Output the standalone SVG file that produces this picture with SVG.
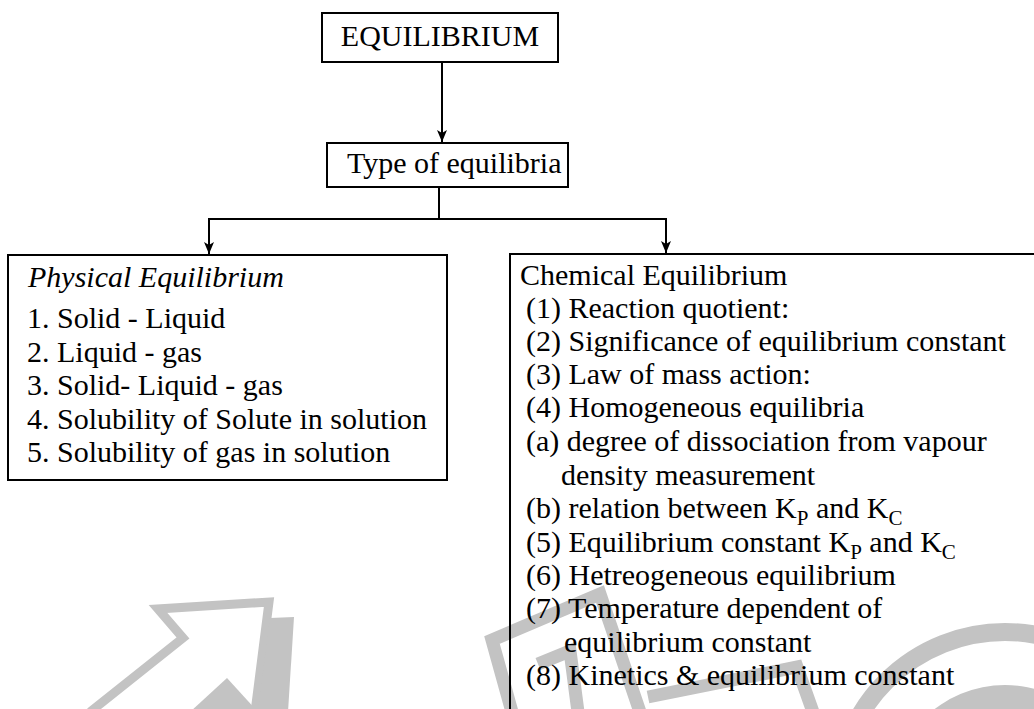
<svg xmlns="http://www.w3.org/2000/svg" width="1034" height="709" viewBox="0 0 1034 709">
<style>
.t{font-family:'Liberation Serif','Times New Roman',Tinos,Times,serif;font-size:30px;fill:#000}
.it{font-style:italic}
.sub{font-size:21px}
.box{fill:none;stroke:#000;stroke-width:2}
.con{fill:none;stroke:#000;stroke-width:2}
.wm{fill:none;stroke:#c3c3c3;stroke-linejoin:miter}
.wmf{fill:#c3c3c3;stroke:none}
</style>
<defs>
<marker id="ah" viewBox="0 0 12 10" refX="12" refY="5" markerWidth="12" markerHeight="10" markerUnits="userSpaceOnUse" orient="auto">
<path d="M0,0 L12,5 L0,10 L3,5 z" fill="#000"/>
</marker>
</defs>
<rect x="0" y="0" width="1034" height="709" fill="#fff"/>
<g id="watermark">
<polyline class="wm" stroke-width="9" points="90,712 183,638 158,609 269,602 255,712"/>
<polygon class="wmf" points="270,618 294,617 288,712 258,712"/>
<polygon class="wmf" points="227,678 190,712 258,712"/>
<polyline class="wm" stroke-width="13" points="512,712 492,640 600,594 640,712"/>
<polyline class="wm" stroke-width="13" points="538,664 570,651 578,712"/>
<polyline class="wm" stroke-width="13" points="648,697 797,667 813,712"/>
<circle cx="1005" cy="800" r="168" fill="none" stroke="#c3c3c3" stroke-width="18"/>
<circle cx="1005" cy="800" r="115" fill="#c3c3c3"/>
</g>
<g id="connectors">
<line class="con" x1="442" y1="62" x2="442" y2="142" marker-end="url(#ah)"/>
<polyline class="con" points="439,187 439,219"/>
<polyline class="con" points="209,219 666,219"/>
<line class="con" x1="209" y1="218" x2="209" y2="254" marker-end="url(#ah)"/>
<line class="con" x1="666" y1="218" x2="666" y2="253" marker-end="url(#ah)"/>
</g>
<g id="node-equilibrium">
<rect class="box" x="322" y="13" width="236" height="49"/>
<text class="t" x="440" y="46" text-anchor="middle">EQUILIBRIUM</text>
</g>
<g id="node-type">
<rect class="box" x="327" y="143" width="241" height="44"/>
<text class="t" x="347" y="173">Type of equilibria</text>
</g>
<g id="node-physical">
<rect class="box" x="8" y="255" width="439" height="225"/>
<text class="t it" x="28" y="287">Physical Equilibrium</text>
<text class="t" x="27" y="328">1. Solid - Liquid</text>
<text class="t" x="27" y="361.5">2. Liquid - gas</text>
<text class="t" x="27" y="395">3. Solid- Liquid - gas</text>
<text class="t" x="27" y="428.5">4. Solubility of Solute in solution</text>
<text class="t" x="27" y="462">5. Solubility of gas in solution</text>
</g>
<g id="node-chemical">
<rect class="box" x="510" y="254" width="540" height="480"/>
<text class="t" x="520" y="285">Chemical Equilibrium</text>
<text class="t" x="526" y="318">(1) Reaction quotient:</text>
<text class="t" x="526" y="351">(2) Significance of equilibrium constant</text>
<text class="t" x="526" y="384">(3) Law of mass action:</text>
<text class="t" x="526" y="417">(4) Homogeneous equilibria</text>
<text class="t" x="526" y="451">(a) degree of dissociation from vapour</text>
<text class="t" x="561" y="485">density measurement</text>
<text class="t" x="526" y="518">(b) relation between K<tspan class="sub" dy="7">P</tspan><tspan dy="-7"> and K</tspan><tspan class="sub" dy="7">C</tspan></text>
<text class="t" x="526" y="552">(5) Equilibrium constant K<tspan class="sub" dy="7">P</tspan><tspan dy="-7"> and K</tspan><tspan class="sub" dy="7">C</tspan></text>
<text class="t" x="526" y="585">(6) Hetreogeneous equilibrium</text>
<text class="t" x="526" y="618">(7) Temperature dependent of</text>
<text class="t" x="564" y="652">equilibrium constant</text>
<text class="t" x="526" y="685">(8) Kinetics &amp; equilibrium constant</text>
</g>
</svg>
